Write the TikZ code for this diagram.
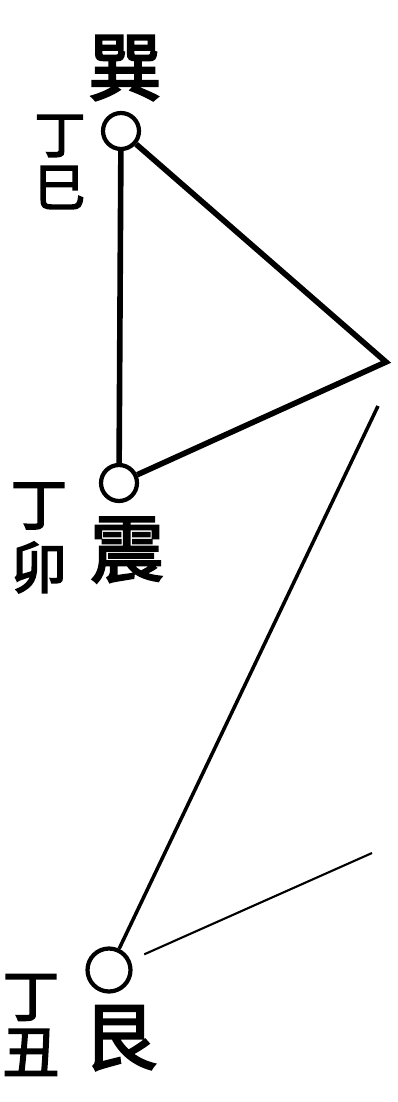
\documentclass[tikz,border=0pt]{standalone}
\usepackage{fontspec}
\newfontfamily\cjk{Noto Sans CJK SC}[FakeBold=3]
\usetikzlibrary{positioning}

\begin{document}
\begin{tikzpicture}[
		x=0.02cm, y=-0.02cm,
		every node/.style={font=\cjk},
		gua/.style={circle, draw, line width=2.4pt, fill=white, minimum size=0.72cm, inner sep=0pt},
		big/.style={font=\cjk\fontsize{42}{42}\selectfont, inner sep=0pt},
		small/.style={font=\cjk\fontsize{32}{34}\selectfont, inner sep=0pt, align=center},
		bar/.style={line width=3.2pt},
		thin/.style={line width=2pt}
		]
		\useasboundingbox (0,0) rectangle (397,1102);
		
		% Nodos
		\node[gua] (xun) at (121,131) {};
		\node[gua] (zhen) at (119,483) {};
		\node[gua, minimum size=0.86cm] (gen) at (109,970) {};
		\coordinate (apex) at (386,362);
		\coordinate (gapend) at (378,406);
		\coordinate (tail) at (372,853);
		
		\node[big] (xunname) at ([shift={(4,-63)}]xun) {巽};
		\node[small, font=\cjk\fontsize{29}{30}\selectfont] (xunday) at (60,162) {丁\\巳};
		\node[big] (zhenname) at ([shift={(8,67)}]zhen) {震};
		\node[small] (zhenday) at (39,538) {丁\\[2pt]卯};
		\node[big] (genname) at ([shift={(11,68)}]gen) {艮};
		\node[small] (genday) at (31,1025) {丁\\[-2pt]丑};
		
		% Lineas
		\draw[bar] (xun) -- (zhen);
		\draw[bar, line join=miter] (xun) -- (apex) -- (zhen);
		\draw[thin] (gapend) -- (gen);
		\draw[line width=1.2pt, shorten <=0.3cm] (gen) -- (tail);
		
	\end{tikzpicture}
\end{document}
